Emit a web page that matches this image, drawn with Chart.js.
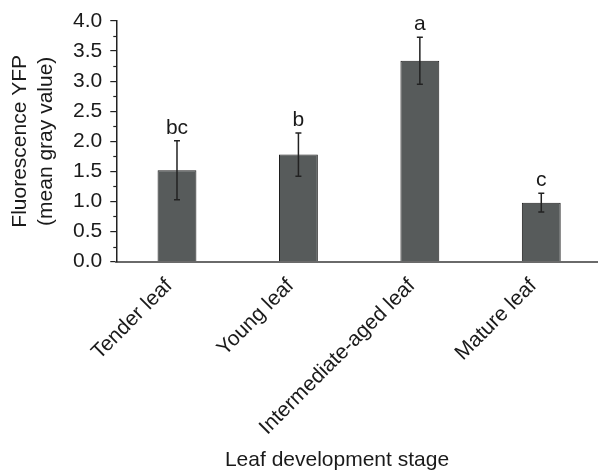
<!DOCTYPE html>
<html>
<head>
<meta charset="utf-8">
<script src="https://cdn.jsdelivr.net/npm/chart.js@4.4.1/dist/chart.umd.min.js"></script>
<style>
  html, body { margin: 0; padding: 0; background: #fff; overflow: hidden; }
  #wrap { width: 602px; height: 471px; }
</style>
</head>
<body>
<div id="wrap"><canvas id="chart" width="602" height="471"></canvas></div>
<script>
// data
const stages = ['Tender leaf', 'Young leaf', 'Intermediate-aged leaf', 'Mature leaf'];
const meanGray = [1.52, 1.78, 3.34, 0.98];
const errGray = [0.49, 0.36, 0.39, 0.155];
const sigLetters = ['bc', 'b', 'a', 'c'];
const yMin = 0, yMax = 4, yStep = 0.5;

const FONT = 'Liberation Sans, Arial, Helvetica, sans-serif';
const INK = '#222222';

// error bars, significance letters, minor ticks and x title
const extras = {
    id: 'extras',
    afterDatasetsDraw(chart) {
        const ctx = chart.ctx;
        const y = chart.scales.y;
        const meta = chart.getDatasetMeta(0);
        ctx.save();
        ctx.strokeStyle = INK;
        ctx.lineWidth = 1.5;
        ctx.fillStyle = '#1a1a1a';
        ctx.font = '21px ' + FONT;
        ctx.textAlign = 'center';
        ctx.textBaseline = 'alphabetic';
        meta.data.forEach(function (bar, i) {
            const top = y.getPixelForValue(meanGray[i] + errGray[i]);
            const bot = y.getPixelForValue(meanGray[i] - errGray[i]);
            ctx.beginPath();
            ctx.moveTo(bar.x, top);
            ctx.lineTo(bar.x, bot);
            ctx.moveTo(bar.x - 3, top);
            ctx.lineTo(bar.x + 3, top);
            ctx.moveTo(bar.x - 3, bot);
            ctx.lineTo(bar.x + 3, bot);
            ctx.stroke();
            ctx.fillText(sigLetters[i], bar.x, top - 7);
        });
        ctx.restore();
    },
    afterDraw(chart) {
        const ctx = chart.ctx;
        const y = chart.scales.y;
        ctx.save();
        ctx.strokeStyle = INK;
        ctx.lineWidth = 1.2;
        for (let v = yMin + yStep / 2; v < yMax; v += yStep) {
            const py = Math.round(y.getPixelForValue(v)) + 0.5;
            ctx.beginPath();
            ctx.moveTo(y.right - 3, py);
            ctx.lineTo(y.right, py);
            ctx.stroke();
        }
        ctx.fillStyle = '#1a1a1a';
        ctx.font = '21px ' + FONT;
        ctx.textAlign = 'center';
        ctx.textBaseline = 'middle';
        ctx.fillText('Leaf development stage', 337, 460);
        ctx.restore();
    }
};

new Chart(document.getElementById('chart'), {
    type: 'bar',
    data: {
        labels: stages,
        datasets: [{
            data: meanGray,
            backgroundColor: '#575b5b',
            borderColor: '#1e1e1e',
            borderWidth: 1,
            categoryPercentage: 1,
            barPercentage: 0.32
        }]
    },
    options: {
        responsive: false,
        animation: false,
        layout: { padding: { left: 0, top: 21, right: 0, bottom: 19 } },
        plugins: { legend: { display: false }, tooltip: { enabled: false } },
        scales: {
            x: {
                grid: { display: false, drawTicks: false },
                border: { display: true, color: '#6a6a6a', width: 2 },
                ticks: {
                    color: '#1a1a1a',
                    font: { family: FONT, size: 21 },
                    maxRotation: 45,
                    minRotation: 45,
                    padding: 12,
                    labelOffset: -8,
                    autoSkip: false
                }
            },
            y: {
                min: yMin,
                max: yMax,
                grid: { display: true, drawOnChartArea: false, drawTicks: true, tickLength: 6, color: INK, lineWidth: 1.2 },
                border: { display: true, color: INK, width: 1.5 },
                ticks: {
                    stepSize: yStep,
                    color: '#1a1a1a',
                    font: { family: FONT, size: 21 },
                    padding: 8,
                    callback: function (v) { return Number(v).toFixed(1); }
                },
                title: {
                    display: true,
                    text: ['Fluorescence YFP', '(mean gray value)'],
                    color: '#1a1a1a',
                    font: { family: FONT, size: 21, lineHeight: 1.24 },
                    padding: { top: 7, bottom: 6 }
                }
            }
        }
    },
    plugins: [extras]
});
</script>
</body>
</html>
